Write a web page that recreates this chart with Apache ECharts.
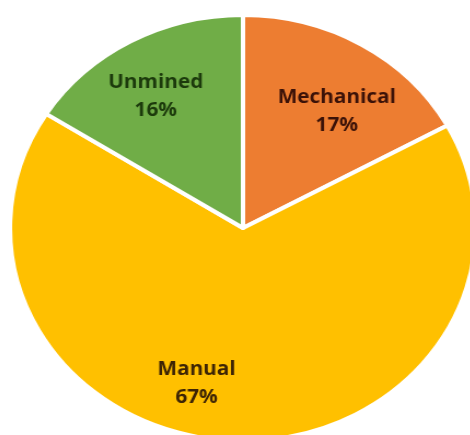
<!DOCTYPE html>
<html>
<head>
<meta charset="utf-8">
<script src="https://cdn.jsdelivr.net/npm/echarts@6/dist/echarts.min.js"></script>
<style>
html,body{margin:0;padding:0;background:#fff;overflow:hidden;}
#c{width:470px;height:435px;transform-origin:243px 228px;transform:scaleX(1.094);}
</style>
</head>
<body>
<div id="c"></div>
<script>
const categories = ['Mechanical', 'Manual', 'Unmined'];
const values = [17, 67, 16];
const sliceColors = ['#ED7D31', '#FFC000', '#70AD47'];
const labelColors = ['#3B1208', '#3D2405', '#1C3A0C'];
const labelOffsets = [[30, -22], [-39, 46], [-27, -35]];

const chart = echarts.init(document.getElementById('c'), null, {renderer: 'canvas'});
chart.setOption({
  animation: false,
  backgroundColor: '#ffffff',
  series: [{
    type: 'pie',
    center: [243, 228],
    radius: [0, 213],
    startAngle: 90,
    clockwise: true,
    avoidLabelOverlap: false,
    itemStyle: {borderColor: '#ffffff', borderWidth: 4},
    label: {
      show: true,
      position: 'inside',
      formatter: p => p.name + '\n' + p.value + '%',
      fontFamily: 'Open Sans',
      fontWeight: 'bold',
      fontSize: 19,
      lineHeight: 28
    },
    labelLine: {show: false},
    data: categories.map((n, i) => ({
      name: n,
      value: values[i],
      itemStyle: {color: sliceColors[i]},
      label: {color: labelColors[i], offset: labelOffsets[i]}
    }))
  }]
});
</script>
</body>
</html>
